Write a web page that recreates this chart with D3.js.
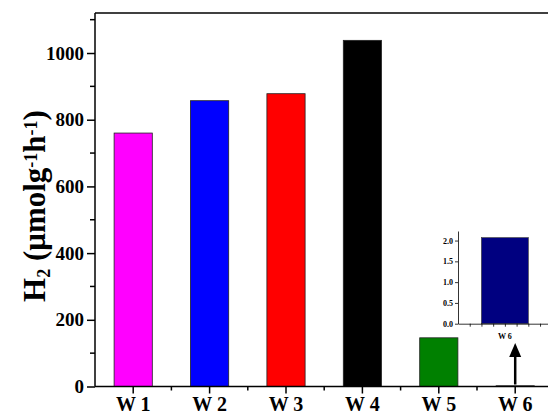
<!DOCTYPE html>
<html lang="en">
<head>
<meta charset="UTF-8">
<title>H2 evolution</title>
<script src="https://d3js.org/d3.v7.min.js"></script>
<style>
    body { margin: 0; background: #fff; }
    text { font-family: "Liberation Serif", "Times New Roman", serif; font-weight: bold; fill: #000; }
    .axis path, .axis line { stroke: #000; stroke-width: 1.5; }
</style>
</head>
<body>
<div id="chart"></div>
<script>
// data
const categories = ["W 1", "W 2", "W 3", "W 4", "W 5", "W 6"];
const rates = [760, 857, 878, 1038, 146, 2.07];
const barColors = ["#ff00ff", "#0000ff", "#ff0000", "#000000", "#008000", "#000080"];
const yTicks = [0, 200, 400, 600, 800, 1000];
const insetTicks = [0, 0.5, 1.0, 1.5, 2.0];

const W = 548, H = 415;
const plotLeft = 95, plotTop = 13, plotBottom = 386.5;

const svg = d3.select("#chart").append("svg")
    .attr("width", W).attr("height", H);

const x = d3.scaleBand().domain(categories)
    .range([plotLeft, plotLeft + 6 * 76.4])
    .paddingInner(0.5).paddingOuter(0.25);
const step = x.step();

const y = d3.scaleLinear().domain([0, 1120]).range([plotBottom, plotTop]);

// bars
svg.selectAll(".bar")
    .data(categories)
    .enter().append("rect")
    .attr("x", d => x(d))
    .attr("width", x.bandwidth())
    .attr("y", (d, i) => y(rates[i]))
    .attr("height", (d, i) => Math.max(0.8, plotBottom - y(rates[i])))
    .attr("fill", (d, i) => i === 5 ? "#000" : barColors[i])
    .attr("stroke", "#222").attr("stroke-width", 0.8);

// frame top line
svg.append("line").attr("x1", plotLeft).attr("x2", W).attr("y1", plotTop).attr("y2", plotTop)
    .attr("stroke", "#000").attr("stroke-width", 1.5);

// y axis: majors + minors
const yAxis = svg.append("g").attr("class", "axis")
    .attr("transform", `translate(${plotLeft},0)`)
    .call(d3.axisLeft(y).tickValues(yTicks).tickFormat(d3.format("d")).tickSize(8).tickPadding(3).tickSizeOuter(0));
yAxis.selectAll("text").style("font-size", "19px");
yAxis.select(".domain").attr("d", `M0,${plotBottom}V${plotTop}`);
yAxis.selectAll(".minor")
    .data(d3.range(100, 1120, 200))
    .enter().append("line")
    .attr("x1", -5).attr("x2", 0)
    .attr("y1", d => y(d)).attr("y2", d => y(d))
    .attr("stroke", "#000").attr("stroke-width", 1.5);

// x axis
const xAxis = svg.append("g").attr("class", "axis")
    .attr("transform", `translate(0,${plotBottom})`)
    .call(d3.axisBottom(x).tickSize(7).tickPadding(3).tickSizeOuter(0));
xAxis.selectAll("text").style("font-size", "20px");
xAxis.select(".domain").attr("d", `M${plotLeft},0H${W}`);
xAxis.selectAll(".minor")
    .data(categories)
    .enter().append("line")
    .attr("x1", d => x(d) + x.bandwidth() / 2 + step / 2)
    .attr("x2", d => x(d) + x.bandwidth() / 2 + step / 2)
    .attr("y1", 0).attr("y2", 4)
    .attr("stroke", "#000").attr("stroke-width", 1.5);

// y label
const lab = svg.append("text")
    .attr("transform", "translate(45,206) rotate(-90)")
    .attr("text-anchor", "middle")
    .style("font-size", "31px");
lab.append("tspan").text("H");
lab.append("tspan").attr("baseline-shift", "-25%").style("font-size", "18px").text("2");
lab.append("tspan").text(" (μmolg");
lab.append("tspan").attr("baseline-shift", "45%").style("font-size", "18px").text("-1");
lab.append("tspan").text("h");
lab.append("tspan").attr("baseline-shift", "45%").style("font-size", "18px").text("-1");
lab.append("tspan").text(")");

// arrow to the W 6 bar
const ax = x("W 6") + x.bandwidth() / 2;
svg.append("line").attr("x1", ax).attr("x2", ax).attr("y1", plotBottom - 2).attr("y2", 354)
    .attr("stroke", "#000").attr("stroke-width", 2.5);
svg.append("path")
    .attr("d", `M${ax},343L${ax - 6},357L${ax + 6},357Z`)
    .attr("fill", "#000");

// inset
const ix = d3.scaleLinear().domain([5.5, 6.46]).range([458, 548]);
const iy = d3.scaleLinear().domain([0, 2.23]).range([323.7, 231]);
const inset = svg.append("g");
inset.append("rect")
    .attr("x", ix(5.75)).attr("width", ix(6.25) - ix(5.75))
    .attr("y", iy(rates[5])).attr("height", iy(0) - iy(rates[5]))
    .attr("fill", barColors[5]).attr("stroke", "#333").attr("stroke-width", 0.6);
const iyAxis = inset.append("g")
    .attr("transform", `translate(${ix(5.5)},0)`)
    .call(d3.axisLeft(iy).tickValues(insetTicks).tickFormat(d3.format(".1f")).tickSize(3).tickPadding(2).tickSizeOuter(0));
iyAxis.selectAll("line, path").attr("stroke", "#000").attr("stroke-width", 0.8);
iyAxis.selectAll("text").style("font-size", "8px");
const ixAxis = inset.append("g")
    .attr("transform", `translate(0,${iy(0)})`)
    .call(d3.axisBottom(ix).tickValues(d3.range(5.625, 6.45, 0.125)).tickFormat("").tickSize(3).tickSizeOuter(0));
ixAxis.selectAll("line, path").attr("stroke", "#000").attr("stroke-width", 0.8);
inset.append("text")
    .attr("x", ix(6)).attr("y", 339)
    .attr("text-anchor", "middle")
    .style("font-size", "8px")
    .text(categories[5]);
</script>
</body>
</html>
